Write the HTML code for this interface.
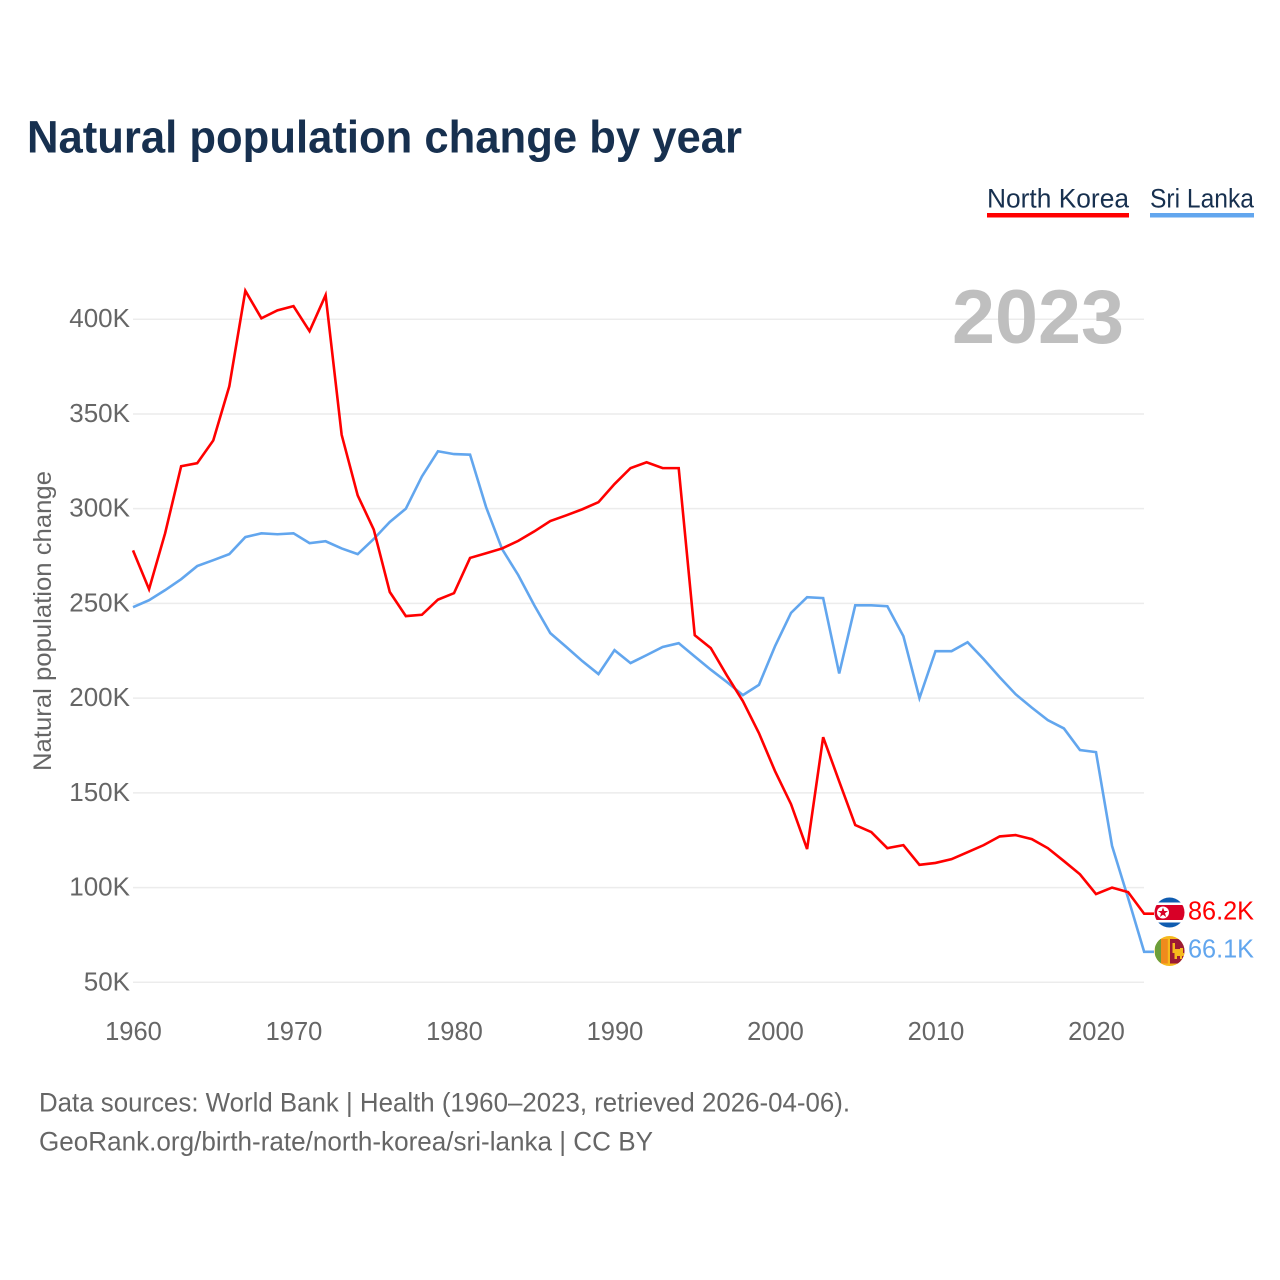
<!DOCTYPE html>
<html lang="en">
<head>
<meta charset="utf-8">
<title>Natural population change by year</title>
<style>
html,body{margin:0;padding:0;background:#fff;}
#chart{display:block;width:1280px;height:1280px;}
text{font-family:"Liberation Sans",sans-serif;}
</style>
</head>
<body>
<svg id="chart" xmlns="http://www.w3.org/2000/svg" width="1280" height="1280" viewBox="0 0 1280 1280">
  <rect width="1280" height="1280" fill="#fff"/>
  <text x="27" y="152.500" font-size="45" font-weight="700" fill="#17304f" textLength="715" lengthAdjust="spacingAndGlyphs">Natural population change by year</text>

  <g>
    <g>
      <text x="987" y="207.500" font-size="27" fill="#17304f" textLength="142" lengthAdjust="spacingAndGlyphs">North Korea</text>
      <rect x="987" y="213" width="142" height="4.5" fill="#ff0000"/>
    </g>
    <g>
      <text x="1150" y="207.500" font-size="27" fill="#17304f" textLength="104" lengthAdjust="spacingAndGlyphs">Sri Lanka</text>
      <rect x="1150" y="213" width="104" height="4.5" fill="#62a6ee"/>
    </g>
  </g>

  <g id="grid"></g>
  <g id="yticks"></g>
  <g id="xticks"></g>

  <text x="1124" y="343" text-anchor="end" font-size="76" font-weight="700" fill="#bfbfbf" textLength="172" lengthAdjust="spacingAndGlyphs">2023</text>
  <text transform="translate(51,621) rotate(-90)" text-anchor="middle" font-size="25" fill="#666" textLength="300" lengthAdjust="spacingAndGlyphs">Natural population change</text>

  <g id="series"></g>

  <defs>
    <clipPath id="clip-kp"><circle cx="1169.5" cy="912.5" r="15"/></clipPath>
    <clipPath id="clip-lk"><circle cx="1169.5" cy="951" r="15"/></clipPath>
  </defs>
  <g clip-path="url(#clip-kp)">
    <rect x="1154" y="897" width="31" height="31" fill="#fff"/>
    <rect x="1154" y="897" width="31" height="5.500" fill="#0f5cb0"/>
    <rect x="1154" y="922.500" width="31" height="5.500" fill="#0f5cb0"/>
    <rect x="1154" y="905" width="31" height="15" fill="#d80027"/>
    <circle cx="1163" cy="912.500" r="6" fill="#fff"/>
    <polygon points="1163,907.500 1164.300,911 1168,911 1165,913.300 1166.100,917 1163,914.800 1159.900,917 1161,913.300 1158,911 1161.700,911" fill="#d80027"/>
  </g>
  <g clip-path="url(#clip-lk)">
    <rect x="1154" y="936" width="31" height="31" fill="#f6b91d"/>
    <rect x="1155" y="939" width="6" height="24.500" fill="#6b9e3a"/>
    <rect x="1161" y="939" width="6.800" height="24.500" fill="#f08a1d"/>
    <rect x="1170" y="939" width="15" height="24.500" fill="#9c1b34"/>
    <path d="M1172.500 943h2.500v6h5v-1h3v5h2v3h-3v3h-2v-3h-3v3h-2.500v-6h-2z" fill="#f6b91d"/>
  </g>

  <text id="value-kp" x="1188" y="919.500" font-size="26" fill="#ff0000" textLength="66" lengthAdjust="spacingAndGlyphs"></text>
  <text id="value-lk" x="1188" y="957.500" font-size="26" fill="#62a6ee" textLength="66" lengthAdjust="spacingAndGlyphs"></text>

  <g>
    <text x="39" y="1111.500" font-size="26.500" fill="#666" textLength="811" lengthAdjust="spacingAndGlyphs">Data sources: World Bank | Health (1960–2023, retrieved 2026-04-06).</text>
    <text x="39" y="1150.500" font-size="26.500" fill="#666" textLength="614" lengthAdjust="spacingAndGlyphs">GeoRank.org/birth-rate/north-korea/sri-lanka | CC BY</text>
  </g>
</svg>

<script>
const startYear = 1960;
const yTickValues = [50, 100, 150, 200, 250, 300, 350, 400];
const xTickYears = [1960, 1970, 1980, 1990, 2000, 2010, 2020];
const northKorea = [278,257.5,287,322.4,324,336,364.6,415,400.5,404.7,406.9,393.7,412.7,339,307,289,256,243.3,244,252,255.4,274,276.5,279,283,288,293.5,296.5,299.7,303.4,313,321.4,324.5,321.4,321.4,233.2,226.4,212,198.4,181.5,161.5,144,120.3,179.4,156,133,129.3,120.8,122.4,112,113,115,118.7,122.4,127,127.7,125.6,120.8,114,107,96.6,100,97.6,86.2];
const sriLanka = [248,251.7,257,262.8,269.7,272.8,276,285,287,286.5,287,281.8,282.8,279,276,284,293,300,317,330.3,328.8,328.5,300.8,278.6,265,249,234.3,227,219.5,212.7,225.3,218.5,222.7,227,229,222,215,208.5,201.6,207,227.4,245,253.3,252.8,213,249,249,248.5,232.7,200,224.8,224.8,229.5,220.6,211,202,195,188.4,184,172.6,171.5,122,94.5,66.1];

const NS = 'http://www.w3.org/2000/svg';
function x(year) { return 133 + (year - 1960) * 16.05; }
function y(value) { return 982.3 - (value - 50) * 1.8945; }

const grid = document.getElementById('grid');
const yticks = document.getElementById('yticks');
const xticks = document.getElementById('xticks');
const seriesGroup = document.getElementById('series');

yTickValues.forEach(function (v) {
  const line = document.createElementNS(NS, 'line');
  
  
  line.setAttribute('x1', 133);
  line.setAttribute('x2', 1144);
  line.setAttribute('y1', y(v));
  line.setAttribute('y2', y(v));
  line.setAttribute('stroke', '#ececec');
  line.setAttribute('stroke-width', '1.5');
  grid.appendChild(line);

  const label = document.createElementNS(NS, 'text');
  
  
  label.setAttribute('x', 130);
  label.setAttribute('y', y(v) + 8);
  label.setAttribute('text-anchor', 'end');
  label.setAttribute('font-size', '26');
  label.setAttribute('fill', '#666');
  label.textContent = v + 'K';
  yticks.appendChild(label);
});

xTickYears.forEach(function (yr) {
  const label = document.createElementNS(NS, 'text');
  
  
  label.setAttribute('x', x(yr) + 0.5);
  label.setAttribute('y', 1040);
  label.setAttribute('text-anchor', 'middle');
  label.setAttribute('font-size', '25.5');
  label.setAttribute('fill', '#666');
  label.textContent = yr;
  xticks.appendChild(label);
});

function drawSeries(values, color, name) {
  const pts = values.map(function (v, i) { return x(startYear + i).toFixed(2) + ',' + y(v).toFixed(2); });
  const last = values[values.length - 1];
  pts.push('1154,' + y(last).toFixed(2));
  const line = document.createElementNS(NS, 'polyline');
  
  
  line.setAttribute('points', pts.join(' '));
  line.setAttribute('fill', 'none');
  line.setAttribute('stroke', color);
  line.setAttribute('stroke-width', '2.6');
  line.setAttribute('stroke-linejoin', 'miter');
  seriesGroup.appendChild(line);
}

drawSeries(sriLanka, '#62a6ee', 'sri-lanka');
drawSeries(northKorea, '#ff0000', 'north-korea');

document.getElementById('value-kp').textContent = northKorea[northKorea.length - 1].toFixed(1) + 'K';
document.getElementById('value-lk').textContent = sriLanka[sriLanka.length - 1].toFixed(1) + 'K';
</script>
</body>
</html>
